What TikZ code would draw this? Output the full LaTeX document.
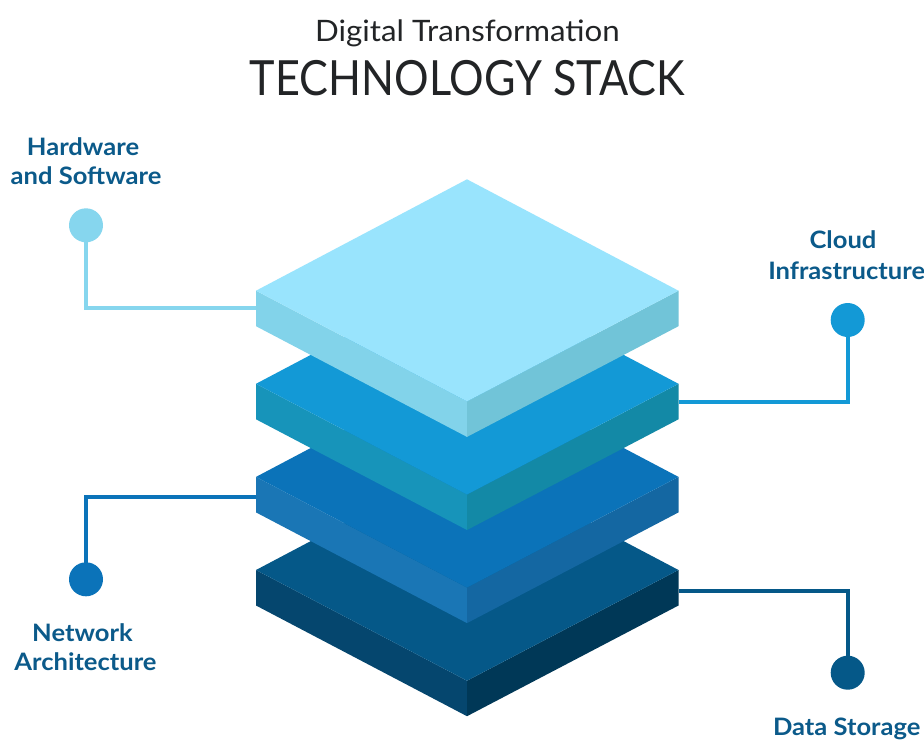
\documentclass[tikz,border=0pt]{standalone}
\usepackage{fontspec}
\setmainfont{Lato}
\newfontfamily\labelfont[FakeStretch=1.065]{Lato Bold}
\newfontfamily\subtitlefont[FakeStretch=1.06]{Lato}
\newfontfamily\headfont[FakeStretch=0.89]{Lato}
\begin{document}
\begin{tikzpicture}[x=1pt,y=-1pt,
  titlefont/.style={text=titlegray,inner sep=0pt,anchor=base},
  tag/.style={text=labelblue,inner sep=0pt,anchor=base,font=\labelfont\fontsize{24}{24}\selectfont},
  dot/.style={circle,fill=#1,minimum size=34pt,inner sep=0pt},
  link/.style={draw=#1,line width=4pt},
]
\definecolor{titlegray}{HTML}{222426}
\definecolor{labelblue}{HTML}{0B5A8A}
% layer colours: top face, left side, right side
\definecolor{aTop}{HTML}{99E4FD}\definecolor{aLeft}{HTML}{82D3EA}\definecolor{aRight}{HTML}{71C4D8}
\definecolor{bTop}{HTML}{1399D6}\definecolor{bLeft}{HTML}{1794BA}\definecolor{bRight}{HTML}{1389A6}
\definecolor{cTop}{HTML}{0B73B9}\definecolor{cLeft}{HTML}{1A76B5}\definecolor{cRight}{HTML}{1467A2}
\definecolor{dTop}{HTML}{055888}\definecolor{dLeft}{HTML}{05466E}\definecolor{dRight}{HTML}{003857}
\definecolor{hwLine}{HTML}{86D6EE}

\useasboundingbox (0,0) rectangle (924,740);
\fill[white] (0,0) rectangle (924,740);

% one isometric slab: #1 = y of the side corners, #2..#4 = colours
\newcommand{\slab}[4]{%
  \fill[#3] (256,#1) -- (467,#1+110.7) -- (467,#1+146.2) -- (256,#1+35.5) -- cycle;
  \fill[#4] (678.5,#1) -- (467,#1+110.7) -- (467,#1+146.2) -- (678.5,#1+35.5) -- cycle;
  \fill[#2] (256,#1) -- (467,#1-111.4) -- (678.5,#1) -- (467,#1+110.7) -- cycle;
}

% title
\node[titlefont,font=\subtitlefont\fontsize{29.5}{30}\selectfont] (title1) at (467.5,41.7) {Digital Transformation};
\node[titlefont,font=\headfont\fontsize{48.5}{48}\selectfont] (title2) at (467.4,95) {TECHNOLOGY STACK};

% stack, drawn from the bottom slab upwards
\slab{570}{dTop}{dLeft}{dRight}
\slab{476.9}{cTop}{cLeft}{cRight}
\slab{383.8}{bTop}{bLeft}{bRight}
\slab{290.7}{aTop}{aLeft}{aRight}

% attachment points on the slab sides
\coordinate (hwend) at (256,307.7);
\coordinate (cloudend) at (678.5,402.3);
\coordinate (netend) at (256,497.3);
\coordinate (dataend) at (678.5,591);

% markers
\node[dot=hwLine] (hwdot) at (86,225.3) {};
\node[dot=bTop] (clouddot) at (847.7,320) {};
\node[dot=cTop] (netdot) at (86,579.3) {};
\node[dot=dTop] (datadot) at (847.7,672.7) {};

% connectors
\draw[link=hwLine] (hwdot.center) |- (hwend);
\draw[link=bTop] (clouddot.center) |- (cloudend);
\draw[link=cTop] (netdot.center) |- (netend);
\draw[link=dTop] (datadot.center) |- (dataend);

% labels
\node[tag] (hw1) at (83,155) {Hardware};
\node[tag] (hw2) at (86,184) {and Software};
\node[tag] (cl1) at (843,248.3) {Cloud};
\node[tag] (cl2) at (846.7,279.3) {Infrastructure};
\node[tag] (nw1) at (82.5,641.7) {Network};
\node[tag] (nw2) at (85.5,670) {Architecture};
\node[tag] (ds) at (846.7,735) {Data Storage};
\end{tikzpicture}
\end{document}
